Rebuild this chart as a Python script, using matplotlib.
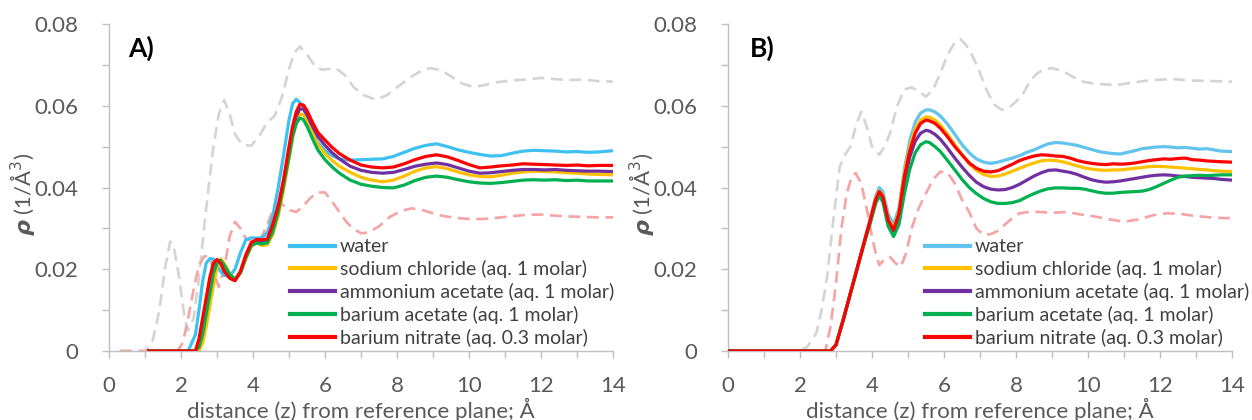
import matplotlib
matplotlib.use("Agg")
import matplotlib.pyplot as plt
from matplotlib.ticker import MultipleLocator, FuncFormatter

# ---------------- DATA ----------------
series_labels = ["water", "sodium chloride (aq. 1 molar)", "ammonium acetate (aq. 1 molar)",
                 "barium acetate (aq. 1 molar)", "barium nitrate (aq. 0.3 molar)"]

# Panel A solid curves (shared x grid)
a_x = [1.1, 2.2, 2.4, 2.5, 2.6, 2.7, 2.8, 2.9, 3.0, 3.1,
       3.2, 3.35, 3.5, 3.65, 3.8, 3.95, 4.1, 4.25, 4.4, 4.55,
       4.7, 4.85, 5.0, 5.1, 5.2, 5.3, 5.4, 5.5, 5.65, 5.8,
       6.0, 6.2, 6.4, 6.7, 7.0, 7.3, 7.6, 7.9, 8.2, 8.5,
       8.8, 9.1, 9.4, 9.7, 10.0, 10.3, 10.6, 10.9, 11.2, 11.5,
       11.8, 12.1, 12.4, 12.7, 13.0, 13.3, 13.6, 14.0]
a_water = [0, 0, 0.004, 0.010, 0.017, 0.0215, 0.0226, 0.0225, 0.021, 0.0195,
           0.0185, 0.0183, 0.0200, 0.0240, 0.0272, 0.0277, 0.0276, 0.0277, 0.0290, 0.0330,
           0.0400, 0.0480, 0.0565, 0.0605, 0.0616, 0.0608, 0.0595, 0.0575, 0.0535, 0.0510,
           0.0490, 0.0478, 0.0470, 0.0467, 0.0468, 0.0469, 0.0470, 0.0476, 0.0486, 0.0496,
           0.0503, 0.0507, 0.0500, 0.0492, 0.0486, 0.0481, 0.0477, 0.0478, 0.0484, 0.0489,
           0.0491, 0.0490, 0.0489, 0.0487, 0.0488, 0.0486, 0.0487, 0.0490]
a_nacl = [0, 0, 0, 0, 0.002, 0.006, 0.011, 0.016, 0.0205, 0.0225,
          0.0215, 0.0190, 0.0175, 0.0190, 0.0225, 0.0255, 0.0265, 0.0258, 0.0260, 0.0285,
          0.0330, 0.0395, 0.0470, 0.0520, 0.0560, 0.0580, 0.0578, 0.0562, 0.0533, 0.0505,
          0.0483, 0.0466, 0.0452, 0.0437, 0.0425, 0.0418, 0.0414, 0.0418, 0.0428, 0.0440,
          0.0448, 0.0451, 0.0446, 0.0438, 0.0431, 0.0427, 0.0426, 0.0430, 0.0435, 0.0438,
          0.0440, 0.0439, 0.0438, 0.0436, 0.0435, 0.0433, 0.0432, 0.0431]
a_nh4ac = [0, 0, 0, 0.002, 0.007, 0.012, 0.017, 0.0208, 0.0222, 0.0217,
           0.0198, 0.0180, 0.0173, 0.0192, 0.0230, 0.0262, 0.0270, 0.0268, 0.0270, 0.0302,
           0.0348, 0.0412, 0.0490, 0.0540, 0.0575, 0.0592, 0.0592, 0.0578, 0.0550, 0.0525,
           0.0503, 0.0485, 0.0470, 0.0452, 0.0442, 0.0437, 0.0435, 0.0437, 0.0444, 0.0452,
           0.0457, 0.0460, 0.0456, 0.0448, 0.0440, 0.0435, 0.0436, 0.0439, 0.0442, 0.0444,
           0.0444, 0.0443, 0.0444, 0.0442, 0.0441, 0.0440, 0.0440, 0.0439]
a_baac = [0, 0, 0, 0.001, 0.004, 0.009, 0.014, 0.019, 0.0215, 0.0222,
          0.0210, 0.0188, 0.0176, 0.0192, 0.0228, 0.0258, 0.0264, 0.0262, 0.0265, 0.0292,
          0.0340, 0.0405, 0.0475, 0.0525, 0.0556, 0.0570, 0.0566, 0.0550, 0.0520, 0.0492,
          0.0468, 0.0450, 0.0435, 0.0418, 0.0408, 0.0403, 0.0400, 0.0399, 0.0406, 0.0417,
          0.0425, 0.0428, 0.0425, 0.0419, 0.0414, 0.0411, 0.0410, 0.0412, 0.0415, 0.0418,
          0.0419, 0.0418, 0.0419, 0.0417, 0.0418, 0.0416, 0.0416, 0.0416]
a_bano3 = [0, 0, 0, 0.003, 0.008, 0.013, 0.018, 0.0215, 0.0224, 0.0215,
           0.0195, 0.0178, 0.0172, 0.0195, 0.0235, 0.0265, 0.0273, 0.0272, 0.0274, 0.0310,
           0.0355, 0.0420, 0.0500, 0.0550, 0.0585, 0.0603, 0.0602, 0.0588, 0.0560, 0.0535,
           0.0516, 0.0498, 0.0483, 0.0467, 0.0455, 0.0450, 0.0448, 0.0450, 0.0458, 0.0468,
           0.0476, 0.0480, 0.0475, 0.0466, 0.0456, 0.0448, 0.0450, 0.0453, 0.0455, 0.0458,
           0.0457, 0.0456, 0.0455, 0.0454, 0.0455, 0.0453, 0.0454, 0.0454]

# Panel A dashed reference curves
a_gray_x = [0.3, 1.0, 1.2, 1.4, 1.55, 1.7, 1.8, 1.95, 2.1, 2.2, 2.35, 2.5, 2.7, 2.9, 3.05, 3.2,
            3.35, 3.5, 3.7, 3.95, 4.2, 4.4, 4.6, 4.8, 5.0, 5.15, 5.3, 5.5, 5.7, 5.9, 6.1, 6.3,
            6.55, 6.8, 7.1, 7.4, 7.7, 8.0, 8.3, 8.6, 8.9, 9.2, 9.5, 9.8, 10.1, 10.4, 10.8,
            11.2, 11.6, 12.0, 12.4, 12.8, 13.2, 13.6, 14.0]
a_gray = [0, 0, 0.002, 0.010, 0.020, 0.0268, 0.0255, 0.018, 0.008, 0.005, 0.008, 0.018, 0.035,
          0.050, 0.058, 0.0614, 0.058, 0.053, 0.0505, 0.0502, 0.053, 0.056, 0.0575, 0.062, 0.069,
          0.073, 0.0745, 0.0725, 0.070, 0.0688, 0.0690, 0.0692, 0.0675, 0.0645, 0.0625, 0.0615,
          0.0625, 0.0645, 0.0665, 0.0682, 0.0692, 0.0688, 0.0672, 0.0655, 0.0646, 0.0650,
          0.0658, 0.0662, 0.0664, 0.0668, 0.0665, 0.0663, 0.0664, 0.0660, 0.0659]
a_pink_x = [0.3, 1.9, 2.05, 2.2, 2.35, 2.5, 2.65, 2.8, 2.95, 3.05, 3.2, 3.35, 3.5, 3.65, 3.8,
            4.0, 4.2, 4.4, 4.6, 4.8, 5.0, 5.2, 5.4, 5.6, 5.8, 6.0, 6.2, 6.4, 6.6, 6.8, 7.0,
            7.2, 7.5, 7.8, 8.1, 8.4, 8.7, 9.0, 9.3, 9.6, 10.0, 10.4, 10.8, 11.2, 11.6, 12.0,
            12.4, 12.8, 13.2, 13.6, 14.0]
a_pink = [0, 0, 0.002, 0.008, 0.015, 0.021, 0.0232, 0.0230, 0.018, 0.0157, 0.020, 0.028,
          0.0316, 0.030, 0.0275, 0.0268, 0.0272, 0.031, 0.0355, 0.036, 0.0345, 0.034, 0.0355,
          0.0375, 0.0388, 0.0388, 0.0365, 0.034, 0.0315, 0.0298, 0.0288, 0.0290, 0.0305,
          0.0328, 0.0342, 0.0349, 0.0345, 0.0337, 0.0330, 0.0326, 0.0323, 0.0323, 0.0326,
          0.0330, 0.0333, 0.0334, 0.0331, 0.0329, 0.0328, 0.0327, 0.0327]

# Panel B solid curves (shared x grid)
b_x = [0, 2.85, 3.0, 3.2, 3.4, 3.6, 3.8, 3.95, 4.1, 4.2,
       4.3, 4.45, 4.6, 4.75, 4.9, 5.05, 5.2, 5.35, 5.5, 5.6,
       5.75, 5.9, 6.1, 6.3, 6.5, 6.7, 6.9, 7.1, 7.3, 7.5,
       7.7, 7.9, 8.1, 8.3, 8.5, 8.7, 8.9, 9.1, 9.3, 9.5,
       9.7, 9.9, 10.1, 10.3, 10.5, 10.7, 10.9, 11.1, 11.3, 11.5,
       11.7, 11.9, 12.1, 12.3, 12.5, 12.7, 12.9, 13.1, 13.3, 13.5,
       13.7, 14.0]
b_water = [0, 0, 0.0015, 0.0076, 0.0141, 0.0206, 0.0274, 0.0325, 0.0378, 0.0400,
           0.0390, 0.0335, 0.0310, 0.0350, 0.0445, 0.0515, 0.0560, 0.0582, 0.0590, 0.0590,
           0.0585, 0.0575, 0.0555, 0.0530, 0.0505, 0.0485, 0.0470, 0.0462, 0.0459, 0.0462,
           0.0467, 0.0472, 0.0478, 0.0486, 0.0492, 0.0500, 0.0507, 0.0510, 0.0509, 0.0506,
           0.0503, 0.0498, 0.0493, 0.0488, 0.0485, 0.0483, 0.0482, 0.0486, 0.0490, 0.0495,
           0.0497, 0.0499, 0.0500, 0.0499, 0.0497, 0.0498, 0.0496, 0.0494, 0.0495, 0.0492,
           0.0489, 0.0488]
b_nacl = [0, 0, 0.0015, 0.0076, 0.0141, 0.0206, 0.0272, 0.0320, 0.0372, 0.0392,
          0.0380, 0.0323, 0.0300, 0.0342, 0.0435, 0.0500, 0.0543, 0.0565, 0.0573, 0.0572,
          0.0565, 0.0553, 0.0530, 0.0505, 0.0480, 0.0458, 0.0442, 0.0432, 0.0427, 0.0428,
          0.0433, 0.0440, 0.0447, 0.0454, 0.0460, 0.0465, 0.0467, 0.0466, 0.0463, 0.0458,
          0.0453, 0.0448, 0.0445, 0.0443, 0.0442, 0.0443, 0.0443, 0.0445, 0.0447, 0.0449,
          0.0451, 0.0452, 0.0451, 0.0450, 0.0449, 0.0447, 0.0446, 0.0444, 0.0443, 0.0441,
          0.0440, 0.0439]
b_nh4ac = [0, 0, 0.0015, 0.0076, 0.0141, 0.0206, 0.0270, 0.0316, 0.0365, 0.0385,
           0.0374, 0.0318, 0.0293, 0.0330, 0.0415, 0.0475, 0.0513, 0.0533, 0.0540, 0.0538,
           0.0530, 0.0518, 0.0496, 0.0472, 0.0450, 0.0430, 0.0413, 0.0402, 0.0396, 0.0394,
           0.0395, 0.0400, 0.0408, 0.0418, 0.0428, 0.0436, 0.0442, 0.0443, 0.0440, 0.0437,
           0.0432, 0.0425, 0.0419, 0.0415, 0.0413, 0.0414, 0.0416, 0.0419, 0.0422, 0.0425,
           0.0428, 0.0430, 0.0431, 0.0430, 0.0428, 0.0427, 0.0425, 0.0424, 0.0423, 0.0422,
           0.0420, 0.0418]
b_baac = [0, 0, 0.0015, 0.0076, 0.0141, 0.0206, 0.0268, 0.0312, 0.0360, 0.0380,
          0.0365, 0.0305, 0.0280, 0.0310, 0.0385, 0.0445, 0.0485, 0.0505, 0.0512, 0.0510,
          0.0500, 0.0488, 0.0466, 0.0443, 0.0420, 0.0400, 0.0385, 0.0373, 0.0365, 0.0361,
          0.0361, 0.0363, 0.0368, 0.0377, 0.0385, 0.0392, 0.0397, 0.0399, 0.0399, 0.0398,
          0.0398, 0.0396, 0.0392, 0.0388, 0.0386, 0.0386, 0.0388, 0.0389, 0.0390, 0.0391,
          0.0395, 0.0402, 0.0410, 0.0418, 0.0425, 0.0428, 0.0429, 0.0430, 0.0429, 0.0430,
          0.0431, 0.0431]
b_bano3 = [0, 0, 0.0015, 0.0076, 0.0141, 0.0206, 0.0272, 0.0320, 0.0370, 0.0390,
           0.0378, 0.0320, 0.0296, 0.0337, 0.0427, 0.0490, 0.0533, 0.0557, 0.0565, 0.0563,
           0.0557, 0.0545, 0.0524, 0.0500, 0.0480, 0.0460, 0.0447, 0.0440, 0.0438, 0.0441,
           0.0449, 0.0457, 0.0466, 0.0472, 0.0477, 0.0480, 0.0479, 0.0477, 0.0476, 0.0472,
           0.0466, 0.0462, 0.0459, 0.0457, 0.0456, 0.0458, 0.0457, 0.0458, 0.0460, 0.0463,
           0.0466, 0.0468, 0.0470, 0.0469, 0.0471, 0.0472, 0.0468, 0.0467, 0.0465, 0.0464,
           0.0463, 0.0462]

# Panel B dashed reference curves
b_gray_x = [0, 2.0, 2.2, 2.45, 2.6, 2.75, 2.9, 3.1, 3.25, 3.4, 3.55, 3.7, 3.85, 4.0, 4.2,
            4.35, 4.5, 4.7, 4.9, 5.1, 5.3, 5.5, 5.7, 5.9, 6.1, 6.3, 6.45, 6.6, 6.8, 7.0,
            7.2, 7.4, 7.6, 7.8, 8.0, 8.2, 8.4, 8.6, 8.8, 9.0, 9.3, 9.6, 9.9, 10.2, 10.5,
            10.8, 11.2, 11.6, 12.0, 12.4, 12.8, 13.2, 13.6, 14.0]
b_gray = [0, 0, 0.001, 0.0043, 0.010, 0.018, 0.030, 0.045, 0.048, 0.050, 0.055, 0.0586,
          0.055, 0.050, 0.048, 0.050, 0.0533, 0.060, 0.0640, 0.0645, 0.0635, 0.0622, 0.064,
          0.068, 0.0725, 0.0755, 0.0763, 0.075, 0.072, 0.068, 0.0635, 0.0603, 0.059, 0.0595,
          0.061, 0.063, 0.0662, 0.068, 0.069, 0.0692, 0.0685, 0.067, 0.0658, 0.0654, 0.0652,
          0.0651, 0.0656, 0.0661, 0.0664, 0.0665, 0.0662, 0.0661, 0.0660, 0.0659]
b_pink_x = [0, 2.7, 2.85, 3.0, 3.15, 3.3, 3.45, 3.55, 3.7, 3.85, 4.0, 4.1, 4.2, 4.35, 4.5,
            4.65, 4.8, 4.95, 5.1, 5.3, 5.5, 5.7, 5.9, 6.1, 6.3, 6.5, 6.7, 6.9, 7.1, 7.3,
            7.5, 7.7, 7.9, 8.1, 8.4, 8.7, 9.0, 9.4, 9.8, 10.2, 10.6, 11.0, 11.4, 11.8, 12.2,
            12.6, 13.0, 13.4, 13.8, 14.0]
b_pink = [0, 0, 0.006, 0.0166, 0.030, 0.0386, 0.0430, 0.0435, 0.041, 0.035, 0.028, 0.024,
          0.021, 0.0225, 0.023, 0.0215, 0.0206, 0.024, 0.030, 0.035, 0.0386, 0.0420, 0.0439,
          0.0436, 0.0410, 0.037, 0.034, 0.030, 0.0284, 0.0286, 0.0294, 0.031, 0.0325, 0.0337,
          0.0341, 0.0340, 0.0338, 0.0340, 0.0334, 0.0329, 0.0322, 0.0316, 0.0322, 0.0332,
          0.0337, 0.0335, 0.0330, 0.0327, 0.0325, 0.0325]

x_ticks = [0, 2, 4, 6, 8, 10, 12, 14]
y_ticks = [0, 0.02, 0.04, 0.06, 0.08]

# ---------------- STYLE ----------------
plt.rcParams['font.family'] = ['Lato', 'DejaVu Sans']
plt.rcParams['mathtext.fontset'] = 'dejavusans'

axis_gray = '#bfbfbf'
text_gray = '#595959'
colors_a = ['#3dc1f0', '#ffc000', '#7030a0', '#00b050', '#ff0000']
colors_b = ['#62c4ee', '#ffc000', '#7030a0', '#00b050', '#ff0000']
gray_dash = '#d4d4d4'
pink_dash = '#f6a3a3'

fig = plt.figure(figsize=(12.52, 4.2), dpi=100)
axA = fig.add_axes([109/1252, 69/420, 504/1252, 327/420])
axB = fig.add_axes([728/1252, 69/420, 504/1252, 327/420])


def style_axis(ax):
    ax.set_xlim(0, 14)
    ax.set_ylim(0, 0.08)
    for s in ['top', 'right']:
        ax.spines[s].set_visible(False)
    for s in ['left', 'bottom']:
        ax.spines[s].set_color(axis_gray)
        ax.spines[s].set_linewidth(1.0)
    ax.set_xticks(x_ticks)
    ax.set_yticks(y_ticks)
    ax.xaxis.set_minor_locator(MultipleLocator(1))
    ax.yaxis.set_minor_locator(MultipleLocator(0.01))
    ax.yaxis.set_major_formatter(FuncFormatter(lambda v, p: '0' if abs(v) < 1e-9 else f'{v:.2f}'))
    ax.tick_params(which='both', direction='out', length=5, width=1, color=axis_gray,
                   labelcolor=text_gray, labelsize=16)
    ax.tick_params(axis='x', which='major', pad=13)
    ax.tick_params(axis='y', which='major', pad=17)
    ax.set_xlabel('distance (z) from reference plane; Å', fontsize=16, color=text_gray, labelpad=1)
    ax.set_ylabel(r'$\mathbfit{\rho}$ (1/Å$^{3}$)', fontsize=16, color=text_gray)
    ax.yaxis.set_label_coords(-0.143, 0.48)


def draw(ax, x, ys, gx, gy, px, py, colors, label, legx):
    ax.plot(gx, gy, color=gray_dash, lw=1.9, dashes=(4.5, 2.5), zorder=2)
    ax.plot(px, py, color=pink_dash, lw=1.9, dashes=(4.5, 2.5), zorder=2)
    for y, c, lab in zip(ys, colors, series_labels):
        ax.plot(x, y, color=c, lw=2.3, label=lab, zorder=3, solid_joinstyle='round')
    style_axis(ax)
    ax.text(0.038 if label == 'A)' else 0.044, 0.965, label, transform=ax.transAxes,
            fontsize=19, fontweight='bold', color='black', va='top', ha='left')
    leg = ax.legend(loc='lower left', bbox_to_anchor=(legx, 0.012), frameon=False,
                    fontsize=14, handlelength=2.3, handletextpad=0.26, labelspacing=0.25,
                    borderpad=0, borderaxespad=0)
    for t in leg.get_texts():
        t.set_color('#404040')
    for h in leg.get_lines():
        h.set_linewidth(3)


draw(axA, a_x, [a_water, a_nacl, a_nh4ac, a_baac, a_bano3], a_gray_x, a_gray, a_pink_x, a_pink,
     colors_a, 'A)', 0.359)
draw(axB, b_x, [b_water, b_nacl, b_nh4ac, b_baac, b_bano3], b_gray_x, b_gray, b_pink_x, b_pink,
     colors_b, 'B)', 0.391)

fig.savefig('out.png', dpi=100)
